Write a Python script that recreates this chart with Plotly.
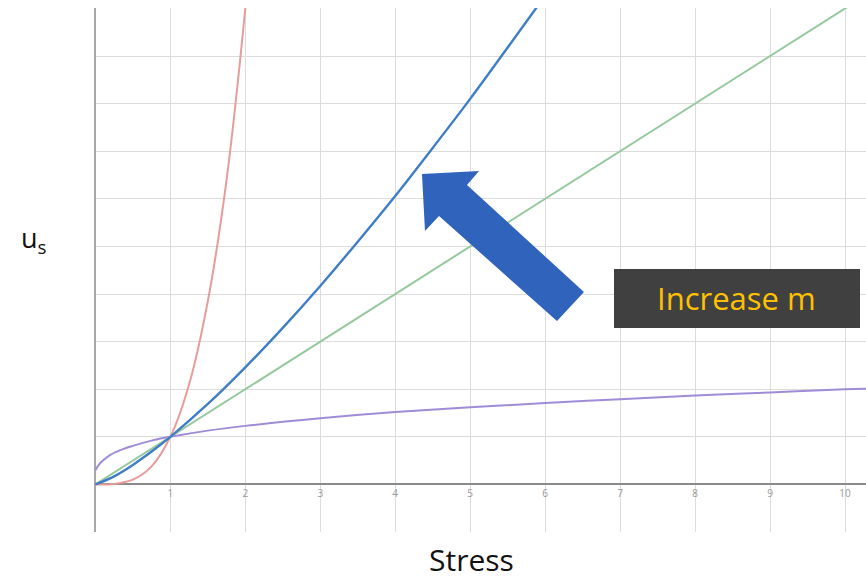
import plotly.graph_objects as go

# ---- data ----
red_x = [0, 0.25, 0.5, 0.75, 1.0, 1.25, 1.5, 1.75, 2.0, 2.1]
red_y = [0, 0.01, 0.1, 0.38, 1.0, 2.1, 3.85, 6.4, 10.0, 11.8]

blue_x = [0, 0.25, 0.5, 0.75, 1.0, 1.5, 2.0, 2.5, 3.0, 3.5, 4.0, 4.5, 5.0, 5.5, 6.0]
blue_y = [0, 0.17, 0.41, 0.69, 1.0, 1.69, 2.46, 3.29, 4.17, 5.1, 6.06, 7.07, 8.1, 9.18, 10.27]

green_x = [0, 10.5]
green_y = [0, 10.5]

purple_x = [0, 0.05, 0.1, 0.2, 0.35, 0.5, 0.75, 1.0, 1.5, 2, 3, 4, 5, 6, 7, 8, 9, 10, 10.3]
purple_y = [0.3, 0.42, 0.5, 0.62, 0.73, 0.81, 0.92, 1.0, 1.13, 1.23, 1.39, 1.52, 1.62, 1.71,
            1.79, 1.87, 1.93, 2.0, 2.01]

x_ticks = [1, 2, 3, 4, 5, 6, 7, 8, 9, 10]
x_tick_labels = [str(v) for v in x_ticks]
y_grid = list(range(0, 11))

x_label = "Stress"
y_label = "u<sub>s</sub>"
note = "Increase m"

# ---- layout geometry (pixels) ----
W, H = 866, 579
L, R, T, B = 95, 0, 8, 47
PW, PH = W - L - R, H - T - B


def px(x, y):
    """pixel -> paper coordinates"""
    return (x - L) / PW, (H - B - y) / PH


fig = go.Figure()
for xs, ys, col, w in [
    (purple_x, purple_y, "#a08cd6", 2),
    (green_x, green_y, "#95c99d", 2),
    (red_x, red_y, "#e79c99", 2),
    (blue_x, blue_y, "#3f7ec7", 2.4),
]:
    fig.add_trace(go.Scatter(x=xs, y=ys, mode="lines",
                             line=dict(color=col, width=w, shape="spline"),
                             hoverinfo="skip", showlegend=False))

# arrow polygon (pixel outline)
arrow_px = [(422, 174), (479, 171), (467, 185), (584, 292), (557, 321), (439, 216), (425, 231)]
pts = [px(a, b) for a, b in arrow_px]
path = "M " + " L ".join(f"{a:.4f},{b:.4f}" for a, b in pts) + " Z"
fig.add_shape(type="path", path=path, xref="paper", yref="paper",
              fillcolor="#3063bb", line=dict(width=0), layer="above")

# note box
bx0, by0 = px(614, 328)
bx1, by1 = px(860, 269)
fig.add_shape(type="rect", xref="paper", yref="paper", x0=bx0, y0=by0, x1=bx1, y1=by1,
              fillcolor="#404040", line=dict(width=0), layer="above")
cx, cy = px(736, 298)
fig.add_annotation(x=cx, y=cy, xref="paper", yref="paper", text=note, showarrow=False,
                   xanchor="center", yanchor="middle",
                   font=dict(family="Open Sans", size=31, color="#FFC000"))

# axis titles
sx, sy = px(471, 559)
fig.add_annotation(x=sx, y=sy, xref="paper", yref="paper", text=x_label, showarrow=False,
                   xanchor="center", yanchor="middle",
                   font=dict(family="Open Sans", size=30, color="#111111"))
ux, uy = px(19, 240)
fig.add_annotation(x=ux, y=uy, xref="paper", yref="paper", text=y_label, showarrow=False,
                   xanchor="left", yanchor="middle",
                   font=dict(family="Open Sans", size=27, color="#111111"))

fig.update_layout(
    width=W, height=H,
    margin=dict(l=L, r=R, t=T, b=B),
    paper_bgcolor="white", plot_bgcolor="white",
    xaxis=dict(range=[-0.005, 10.28], tickvals=x_ticks, ticktext=x_tick_labels,
               showgrid=True, gridcolor="#dcdcdc", gridwidth=1,
               zeroline=True, zerolinecolor="#a8a8a8", zerolinewidth=1.5,
               anchor="free", position=px(0, 485)[1],
               showline=False, ticks="", ticklabelstandoff=1,
               tickfont=dict(family="Open Sans", size=10, color="#999999")),
    yaxis=dict(range=[-1, 10.01], tickvals=y_grid, showticklabels=False,
               showgrid=True, gridcolor="#dcdcdc", gridwidth=1,
               zeroline=True, zerolinecolor="#8a8a8a", zerolinewidth=2,
               showline=False, ticks=""),
)

fig.write_html("out.html", config={"displayModeBar": False},
               post_script="document.body.style.margin='0';document.body.style.overflow='hidden';")
